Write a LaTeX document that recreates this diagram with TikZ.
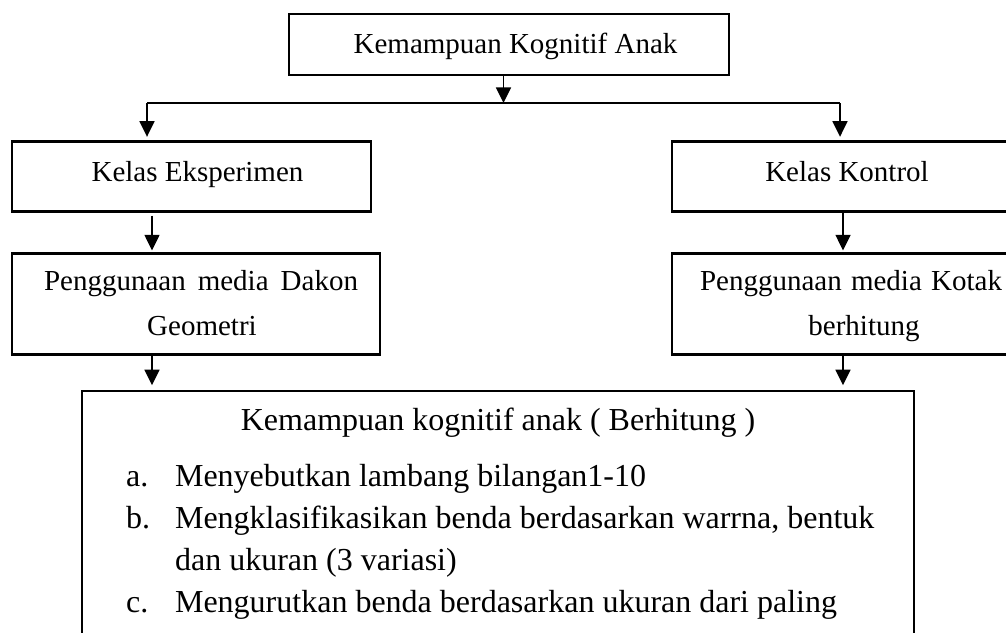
\documentclass[tikz,border=0pt]{standalone}
\usepackage{fontspec}
\setmainfont{Liberation Serif}
\usetikzlibrary{arrows.meta}

\begin{document}
\begin{tikzpicture}[
  x=0.5pt, y=-0.5pt,
  kotak/.style={draw, line width=1.1pt, inner sep=0pt, align=center,
    font=\fontsize{14.5}{22.5}\selectfont},
  kotakBesar/.style={draw, line width=1.1pt, inner sep=0pt,
    font=\fontsize{16}{21}\selectfont},
  panah/.style={-{Triangle[length=7.8pt,width=7.5pt]}, line width=0.8pt},
  garis/.style={line width=0.8pt}
]
\clip (0,0) rectangle (1006,632);

% --- top box ---
\node[kotak, minimum width=220pt, minimum height=30.5pt,
  text height=10pt, text depth=1.2pt] (atas) at (509,44.5)
  {\hspace*{6.5pt}Kemampuan Kognitif Anak};

% --- the two classes ---
\node[kotak, minimum width=179.5pt, minimum height=35pt,
  text height=10pt, text depth=5.5pt] (eksp) at (191.5,176.5)
  {\hspace*{6pt}Kelas Eksperimen};
\node[kotak, minimum width=170pt, minimum height=35pt,
  text height=10pt, text depth=5.5pt] (kontrol) at (842,176.5)
  {\hspace*{5pt}Kelas Kontrol};

% --- media used ---
\node[kotak, minimum width=184pt, minimum height=50.5pt] (dakon) at (196,304)
  {\hspace*{5pt}\makebox[157pt][s]{\strut Penggunaan media Dakon}\\
   \hspace*{6pt}\strut Geometri};
\node[kotak, minimum width=184pt, minimum height=50.5pt] (kotakHitung) at (856,304)
  {\makebox[151pt][s]{\strut Penggunaan media Kotak}\hspace*{5pt}\\
   \hspace*{8pt}\strut berhitung};

% --- result box ---
\node[kotakBesar, anchor=north west] (hasil) at (81,390) {\parbox[c][160pt][t]{416pt}{%
  \vspace*{4.8pt}%
  \centering\strut Kemampuan kognitif anak ( Berhitung )\par
  \vspace{7pt}%
  \raggedright\hspace*{22pt}%
  \begin{tabular}[t]{@{}p{24.5pt}@{}l@{}}
  a. & Menyebutkan lambang bilangan1-10\\
  b. & Mengklasifikasikan benda berdasarkan warrna, bentuk\\
     & dan ukuran (3 variasi)\\
  c. & Mengurutkan benda berdasarkan ukuran dari paling
  \end{tabular}\par}};

% --- connectors ---
\coordinate (cabang) at (503.5,103);
\coordinate (cabangKiri) at (147,103);
\coordinate (cabangKanan) at (840,103);
\coordinate (lajurKiri) at (152,0);
\coordinate (lajurKanan) at (843,0);

\draw[panah] (atas.south -| cabang) -- (cabang);
\draw[garis] (cabangKiri) -- (cabangKanan);
\draw[panah, shorten >=1.8pt] (cabangKiri) -- (eksp.north -| cabangKiri);
\draw[panah, shorten >=1.8pt] (cabangKanan) -- (kontrol.north -| cabangKanan);

\draw[panah, shorten <=1.5pt, shorten >=1pt] (eksp.south -| lajurKiri) -- (dakon.north -| lajurKiri);
\draw[panah, shorten >=1pt] (kontrol.south -| lajurKanan) -- (kotakHitung.north -| lajurKanan);

\draw[panah, shorten >=2.4pt] (dakon.south -| lajurKiri) -- (hasil.north -| lajurKiri);
\draw[panah, shorten >=2.4pt] (kotakHitung.south -| lajurKanan) -- (hasil.north -| lajurKanan);

\end{tikzpicture}
\end{document}
